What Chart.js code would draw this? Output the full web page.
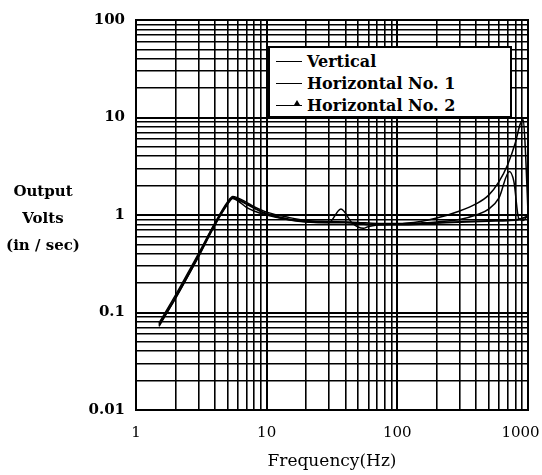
<!DOCTYPE html>
<html lang="en">
<head>
  <meta charset="UTF-8" />
  <title>Output Volts vs Frequency</title>
  <script src="https://cdn.jsdelivr.net/npm/chart.js"></script>
  <style>
    html, body { margin: 0; padding: 0; background: #fff; }
    #wrap { position: relative; width: 542px; height: 475px; }
    #yTitle {
      position: absolute; left: 0; top: 178px; width: 86px;
      font: bold 15px "DejaVu Serif", "Liberation Serif", serif;
      line-height: 27px; text-align: center; color: #000;
    }
    #legendBox {
      position: absolute; left: 268px; top: 46px; width: 240px; height: 68px;
      background: #fff; border: 2px solid #000;
      font: bold 16px "DejaVu Serif", "Liberation Serif", serif; color: #000;
    }
    .row { display: flex; align-items: center; height: 22px; margin-left: 6px; }
    .row:first-child { margin-top: 2px; }
    .swatch { width: 26px; height: 0; border-top: 1.5px solid #000; margin-right: 5px; position: relative; }
    .swatch.tri::after {
      content: ''; position: absolute; right: 2px; top: -6px;
      border-left: 3px solid transparent; border-right: 3px solid transparent; border-bottom: 5px solid #000;
    }
  </style>
</head>
<body>
  <div id="wrap">
    <canvas id="chart" width="542" height="475"></canvas>
    <div id="yTitle">Output<br>Volts<br>(in / sec)</div>
    <div id="legendBox">
      <div class="row"><span class="swatch"></span>Vertical</div>
      <div class="row"><span class="swatch"></span>Horizontal No. 1</div>
      <div class="row"><span class="swatch tri"></span>Horizontal No. 2</div>
    </div>
  </div>

  <script>
    // Data (Hz, volts per in/sec)
    const vertFreq = [1.5, 2, 3, 4, 5, 5.5, 6, 7, 8, 10, 15, 20, 30, 40, 50, 60, 70, 100, 150, 200, 300, 500, 700, 850, 1000];
    const vertVals = [0.075, 0.14, 0.38, 0.8, 1.3, 1.5, 1.45, 1.3, 1.18, 1.03, 0.9, 0.86, 0.84, 0.84, 0.82, 0.8, 0.8, 0.8, 0.81, 0.83, 0.85, 0.87, 0.88, 0.9, 0.97];

    const h1Freq = [1.5, 2, 3, 4, 5, 5.5, 6, 7, 8, 10, 15, 20, 30, 40, 50, 70, 100, 150, 200, 300, 400, 500, 600, 700, 800, 870, 920, 960, 1000];
    const h1Vals = [0.078, 0.15, 0.4, 0.82, 1.35, 1.55, 1.5, 1.35, 1.22, 1.07, 0.94, 0.88, 0.86, 0.85, 0.84, 0.82, 0.82, 0.86, 0.93, 1.1, 1.3, 1.6, 2.2, 3.3, 5.5, 8.5, 9.5, 4, 1.05];

    const h2Freq = [1.5, 2, 3, 4, 5, 5.5, 6, 7, 8, 10, 15, 20, 30, 37, 45, 55, 60, 70, 100, 150, 200, 300, 400, 500, 600, 720, 780, 850, 920, 1000];
    const h2Vals = [0.072, 0.14, 0.37, 0.78, 1.28, 1.48, 1.4, 1.2, 1.1, 1.0, 0.89, 0.85, 0.84, 1.15, 0.83, 0.73, 0.76, 0.79, 0.81, 0.83, 0.85, 0.9, 1.0, 1.15, 1.5, 2.8, 2.2, 0.92, 0.88, 1.0];

    // grid values (1..9 x each decade) and labelled ticks
    const xGrid = [1,2,3,4,5,6,7,8,9,10,20,30,40,50,60,70,80,90,100,200,300,400,500,600,700,800,900,1000];
    const yGrid = [0.01,0.02,0.03,0.04,0.05,0.06,0.07,0.08,0.09,0.1,0.2,0.3,0.4,0.5,0.6,0.7,0.8,0.9,1,2,3,4,5,6,7,8,9,10,20,30,40,50,60,70,80,90,100];
    // trailing spaces pull the last label back inside the canvas
    const xLabels = { 1: '1', 10: '10', 100: '100', 1000: '1000\u2002\u2002' };
    const yLabels = { 0.01: '0.01', 0.1: '0.1', 1: '1', 10: '10', 100: '100' };

    const pts = (f, v) => f.map((x, i) => ({ x, y: v[i] }));
    const isDecade = v => Math.abs(Math.log10(v) - Math.round(Math.log10(v))) < 1e-9;

    const lineDs = (label, data, w) => ({
      label, data, borderColor: '#000', borderWidth: w, pointRadius: 0,
      tension: 0.35, cubicInterpolationMode: 'monotone', fill: false
    });

    const serif = '"DejaVu Serif", "Liberation Serif", serif';
    const gridW = c => (c.tick && isDecade(c.tick.value)) ? 2 : 1.6;

    new Chart(document.getElementById('chart'), {
      type: 'line',
      data: {
        datasets: [
          lineDs('Vertical', pts(vertFreq, vertVals), 2),
          lineDs('Horizontal No. 1', pts(h1Freq, h1Vals), 1.5),
          lineDs('Horizontal No. 2', pts(h2Freq, h2Vals), 1.5)
        ]
      },
      options: {
        responsive: false,
        animation: false,
        layout: { padding: { top: 16, right: 14, left: 0, bottom: 0 } },
        plugins: { legend: { display: false }, tooltip: { enabled: false } },
        scales: {
          x: {
            type: 'logarithmic', min: 1, max: 1000,
            afterBuildTicks: s => { s.ticks = xGrid.map(value => ({ value, major: isDecade(value) })); },
            afterFit: s => { s.height = 65; s.paddingLeft = 0; s.paddingRight = 0; },
            border: { color: '#000', width: 2 },
            grid: { color: '#000', lineWidth: gridW, drawTicks: false },
            ticks: {
              autoSkip: false, maxRotation: 0, padding: 14, color: '#000',
              font: { family: serif, size: 15 },
              callback: v => xLabels[v] || ''
            },
            title: {
              display: true, text: 'Frequency(Hz)', color: '#000',
              font: { family: serif, size: 17 }, padding: { top: 0, bottom: 3 }
            }
          },
          y: {
            type: 'logarithmic', min: 0.01, max: 100,
            afterBuildTicks: s => { s.ticks = yGrid.map(value => ({ value, major: isDecade(value) })); },
            afterFit: s => { s.width = 136; },
            border: { color: '#000', width: 2 },
            grid: { color: '#000', lineWidth: gridW, drawTicks: false },
            ticks: {
              autoSkip: false, padding: 11, color: '#000',
              font: { family: serif, size: 15, weight: 'bold' },
              callback: v => yLabels[v] || ''
            }
          }
        }
      },
      plugins: [{
        id: 'frame',
        afterDraw(chart) {
          const { ctx, chartArea: a } = chart;
          ctx.save();
          ctx.strokeStyle = '#000';
          ctx.lineWidth = 2;
          ctx.strokeRect(a.left, a.top, a.right - a.left, a.bottom - a.top);
          ctx.restore();
        }
      }]
    });
  </script>
</body>
</html>
